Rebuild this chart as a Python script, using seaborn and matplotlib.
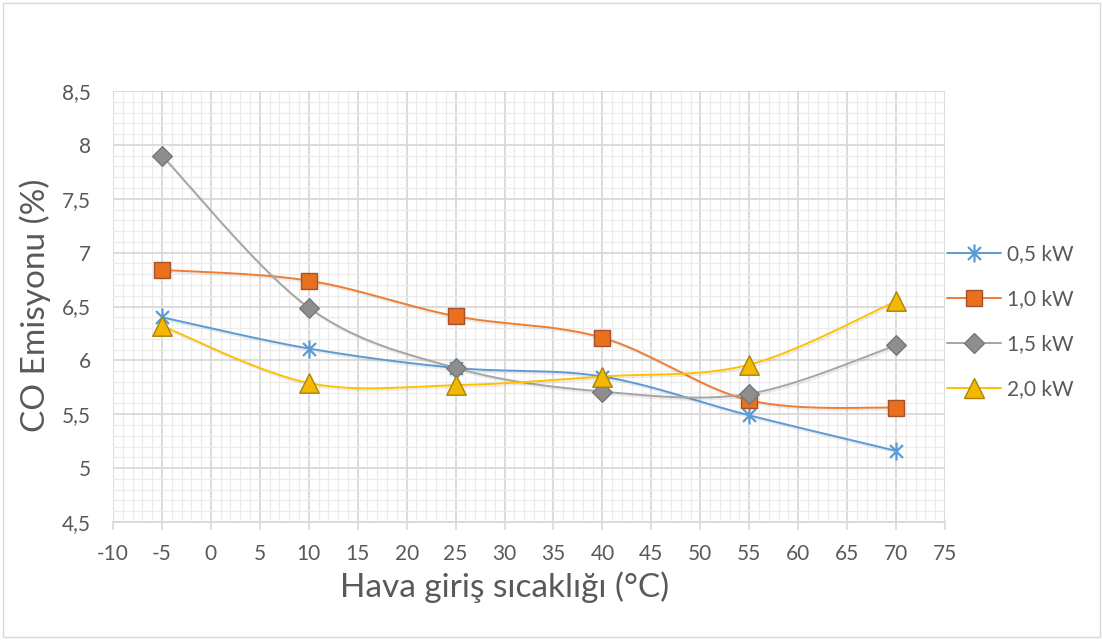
import numpy as np
import pandas as pd
import matplotlib
matplotlib.use("Agg")
import matplotlib.pyplot as plt
import matplotlib.patheffects as pe
from matplotlib.path import Path
from matplotlib.ticker import MultipleLocator, FuncFormatter
import seaborn as sns

# Inlet air temperature (°C) and CO emission (%) for each heater power
temps = [-5, 10, 25, 40, 55, 70]
series_names = ["0,5 kW", "1,0 kW", "1,5 kW", "2,0 kW"]
co_05 = [6.40, 6.11, 5.93, 5.85, 5.49, 5.16]
co_10 = [6.84, 6.74, 6.41, 6.21, 5.63, 5.56]
co_15 = [7.90, 6.49, 5.93, 5.71, 5.69, 6.14]
co_20 = [6.32, 5.79, 5.77, 5.85, 5.96, 6.55]

x_ticks = list(range(-10, 80, 5))
y_ticks = [4.5, 5, 5.5, 6, 6.5, 7, 7.5, 8, 8.5]

line_colors = ["#5B9BD5", "#ED7D31", "#A5A5A5", "#FFC000"]
face_colors = ["#5B9BD5", "#E8701E", "#8E8E8E", "#F5B800"]
edge_colors = ["#5B9BD5", "#A5522A", "#777777", "#A8840C"]

star = Path(
    [(0, -1), (0, 1), (-0.72, -0.72), (0.72, 0.72), (-0.72, 0.72), (0.72, -0.72)],
    [Path.MOVETO, Path.LINETO, Path.MOVETO, Path.LINETO, Path.MOVETO, Path.LINETO],
)
markers = [star, "s", "D", "^"]
msizes = [13, 12, 10, 14]

df = pd.DataFrame({
    "temp": temps * 4,
    "co": co_05 + co_10 + co_15 + co_20,
    "series": sum([[n] * len(temps) for n in series_names], []),
})


def smooth_curve(xs, ys, steps=40):
    """Piecewise cubic Bezier through the points (Catmull-Rom style)."""
    pts = np.column_stack([xs, ys]).astype(float)
    n = len(pts)
    out = []
    for i in range(n - 1):
        p0 = pts[i - 1] if i > 0 else pts[i]
        p1 = pts[i]
        p2 = pts[i + 1]
        p3 = pts[i + 2] if i + 2 < n else pts[i + 1]
        c1 = p1 + (p2 - p0) / 6.0
        c2 = p2 - (p3 - p1) / 6.0
        t = np.linspace(0, 1, steps)[:, None]
        seg = ((1 - t) ** 3) * p1 + 3 * ((1 - t) ** 2) * t * c1 + 3 * (1 - t) * t ** 2 * c2 + t ** 3 * p2
        out.append(seg if i == 0 else seg[1:])
    arr = np.vstack(out)
    return arr[:, 0], arr[:, 1]


sns.set_theme(style="white")
plt.rcParams["font.family"] = ["Lato", "DejaVu Sans"]

fig = plt.figure(figsize=(11.03, 6.40), dpi=100)
ax = fig.add_axes([113 / 1103, 1 - 522 / 640, (945 - 113) / 1103, (522 - 91) / 640])

shadow = [pe.SimpleLineShadow(offset=(1.0, -1.5), alpha=0.08, rho=0.3), pe.Normal()]

handles = []
for i, name in enumerate(series_names):
    sub = df[df["series"] == name]
    sx, sy = smooth_curve(sub["temp"].values, sub["co"].values)
    curve = pd.DataFrame({"x": sx, "y": sy})
    sns.lineplot(data=curve, x="x", y="y", sort=False, ax=ax, color=line_colors[i],
                 lw=1.4, zorder=3 + i, path_effects=shadow, estimator=None)
    mk_kw = dict(marker=markers[i], s=msizes[i] ** 2, zorder=10 + i)
    sns.scatterplot(data=sub, x="temp", y="co", ax=ax, color=face_colors[i],
                    edgecolor=edge_colors[i], linewidth=1.6 if i == 0 else 1.0, **mk_kw)
    h, = ax.plot([], [], color=line_colors[i], lw=1.4, marker=markers[i],
                 markersize=msizes[i], markerfacecolor=face_colors[i],
                 markeredgecolor=edge_colors[i], markeredgewidth=1.6 if i == 0 else 1.0)
    handles.append(h)

ax.set_xlim(-10, 75)
ax.set_ylim(4.5, 8.5)
ax.set_xticks(x_ticks)
ax.set_yticks(y_ticks)
ax.xaxis.set_minor_locator(MultipleLocator(1))
ax.yaxis.set_minor_locator(MultipleLocator(0.1))
ax.xaxis.set_major_formatter(FuncFormatter(lambda v, p: f"{v:g}"))
ax.yaxis.set_major_formatter(FuncFormatter(lambda v, p: f"{v:g}".replace(".", ",")))

ax.grid(which="major", color="#D9D9D9", lw=1.3, zorder=0)
ax.grid(which="minor", color="#EBEBEB", lw=0.9, zorder=0)
ax.set_axisbelow(True)
for side in ["top", "right", "left"]:
    ax.spines[side].set_visible(False)
ax.spines["bottom"].set_color("#D9D9D9")
ax.spines["bottom"].set_linewidth(1.3)
ax.tick_params(axis="x", which="major", direction="out", length=6, width=1.2,
               color="#D9D9D9", labelsize=15, labelcolor="#595959", pad=10, bottom=True)
ax.tick_params(axis="x", which="minor", length=0)
ax.tick_params(axis="y", which="both", length=0, labelsize=15, labelcolor="#595959", pad=16)

ax.set_xlabel("Hava giriş sıcaklığı (°C)", fontsize=24, color="#595959")
ax.xaxis.set_label_coords((505 - 113) / (945 - 113), -(587 - 522) / (522 - 91))
ax.xaxis.label.set_va("center")
ax.set_ylabel("CO Emisyonu (%)", fontsize=24, color="#595959")
ax.yaxis.set_label_coords(-(113 - 35) / (945 - 113), (522 - 305) / (522 - 91))
ax.yaxis.label.set_va("center")

leg = fig.legend(handles, series_names, loc="center left", bbox_to_anchor=(947 / 1103, 1 - 322 / 640),
                 frameon=False, fontsize=15, labelcolor="#595959", handlelength=2.6,
                 labelspacing=1.2, handletextpad=0.3, borderaxespad=0, borderpad=0)

fig.patches.append(plt.Rectangle((3 / 1103, 3 / 640), 1 - 6 / 1103, 1 - 6 / 640,
                                 transform=fig.transFigure, fill=False,
                                 edgecolor="#D9D9D9", lw=1.0))

fig.savefig("out.png", dpi=100, facecolor="white")
